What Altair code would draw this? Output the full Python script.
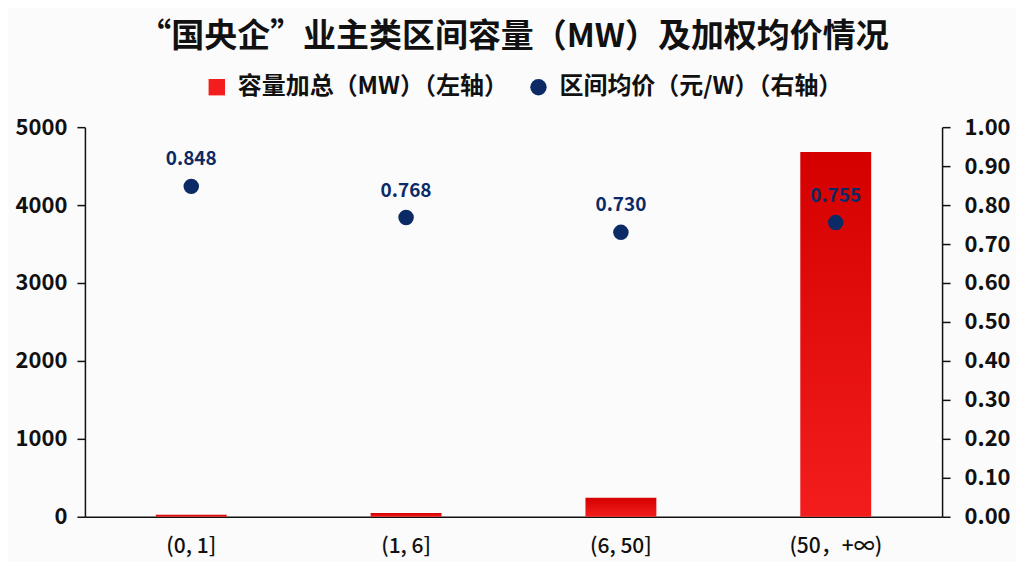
import altair as alt
import pandas as pd

categories = ["(0, 1]", "(1, 6]", "(6, 50]", "(50，+∞)"]
capacity_mw = [25, 48, 245, 4680]
avg_price = [0.848, 0.768, 0.730, 0.755]
price_labels = ["0.848", "0.768", "0.730", "0.755"]

series_names = ["容量加总（MW）（左轴）", "区间均价（元/W）（右轴）"]

df = pd.DataFrame({
    "cat": categories,
    "cap": capacity_mw,
    "price": avg_price,
    "plabel": price_labels,
    "series": [series_names[1]] * len(categories),
})

FONT = "Noto Sans CJK SC"
RED_TOP = "#d40000"
RED_BOT = "#f31d1d"
NAVY = "#0c2a66"

x_enc = alt.X("cat:N", sort=categories, title=None,
              scale=alt.Scale(paddingInner=0.67, paddingOuter=0.33),
              axis=alt.Axis(labelAngle=0, labelFontSize=21, labelFont=FONT,
                            labelFontWeight=500, labelColor="#111111",
                            ticks=False, labelPadding=19,
                            domainColor="#111111", domainWidth=1.5))

bars = alt.Chart(df).mark_bar(
    color=alt.Gradient(gradient="linear",
                       stops=[alt.GradientStop(color=RED_TOP, offset=0),
                              alt.GradientStop(color=RED_BOT, offset=1)],
                       x1=0, x2=0, y1=0, y2=1)
).encode(
    x=x_enc,
    y=alt.Y("cap:Q", title=None,
            scale=alt.Scale(domain=[0, 5000]),
            axis=alt.Axis(values=[0, 1000, 2000, 3000, 4000, 5000], grid=False,
                          format="d",
                          labelFontSize=22, labelFontWeight="bold", labelFont=FONT,
                          labelColor="#111111", tickColor="#111111", tickSize=8,
                          tickWidth=1.5, domainColor="#111111", domainWidth=1.5,
                          labelPadding=10)),
)

color_scale = alt.Scale(domain=series_names, range=[RED_BOT, NAVY])
shape_scale = alt.Scale(domain=series_names, range=["square", "circle"])

right_axis = alt.Axis(orient="right", values=[i / 10 for i in range(11)],
                      format=".2f", grid=False,
                      labelFontSize=22, labelFontWeight="bold", labelFont=FONT,
                      labelColor="#111111", tickColor="#111111", tickSize=8,
                      tickWidth=1.5, domainColor="#111111", domainWidth=1.5,
                      labelPadding=14)

points = alt.Chart(df).mark_point(filled=True, size=240, opacity=1).encode(
    x=alt.X("cat:N", sort=categories),
    y=alt.Y("price:Q", title=None, scale=alt.Scale(domain=[0, 1]), axis=right_axis),
    color=alt.Color("series:N", scale=color_scale,
                    legend=alt.Legend(orient="none", legendX=120, legendY=-52,
                                      title=None, direction="horizontal",
                                      labelFontSize=24, labelFont=FONT,
                                      labelFontWeight="bold",
                                      labelColor="#111111", symbolSize=270,
                                      symbolOpacity=1, columnPadding=18,
                                      labelOffset=9, labelLimit=400)),
    shape=alt.Shape("series:N", scale=shape_scale, legend=None),
)

labels = alt.Chart(df).mark_text(
    dy=-17, baseline="bottom", fontSize=19, fontWeight="bold", font=FONT, color=NAVY
).encode(
    x=alt.X("cat:N", sort=categories),
    y=alt.Y("price:Q", title=None, scale=alt.Scale(domain=[0, 1]), axis=right_axis),
    text="plabel:N",
)

right = alt.layer(points, labels)

chart = alt.layer(bars, right).resolve_scale(y="independent").properties(
    width=858,
    height=390,
    background="#fbfbfb",
    padding={"top": 13, "left": 7, "right": 5, "bottom": 5},
    title=alt.TitleParams("“国央企”业主类区间容量（MW）及加权均价情况",
                          fontSize=33, font=FONT, fontWeight="bold",
                          color="#111111", anchor="middle", offset=21),
).configure_view(stroke=None)

chart.save("out.html", embed_options={"renderer": "svg", "actions": False})
